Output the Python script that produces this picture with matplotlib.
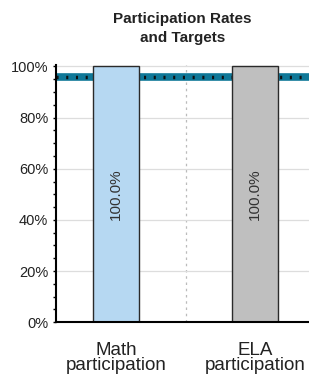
import matplotlib.pyplot as plt
import numpy as np
from matplotlib.ticker import MultipleLocator, FuncFormatter

plt.rcParams['font.family'] = ['Liberation Sans', 'DejaVu Sans']

# data
categories = ['Math\nparticipation', 'ELA\nparticipation']
rates = [100.0, 100.0]
target = 96
bar_colors = ['#b6d8f2', '#bfbfbf']

fig = plt.figure(figsize=(3.09, 3.79), dpi=100)
ax = fig.add_axes([0.181, 0.150, 0.819, 0.678])

x = np.arange(len(categories))

# target line (teal with black dashes)
ax.axhline(target, color='#107898', lw=5.5, zorder=1)
ax.axhline(target, color='#111111', lw=2.5, dashes=(0.6, 2.2), zorder=1.1)

bars = ax.bar(x, rates, width=0.335, color=bar_colors, edgecolor='#2a2a2a',
              linewidth=1.0, zorder=2)
for xi, r in zip(x, rates):
    ax.text(xi, 50, f'{r:.1f}%', rotation=90, ha='center', va='center',
            fontsize=11, color='#333333', zorder=3)

ax.axvline(0.5, color='#bbbbbb', lw=0.9, ls=(0, (2, 3)), zorder=0.5)

ax.set_xlim(-0.432, 1.388)
ax.set_ylim(0, 100.5)
ax.set_yticks(range(0, 101, 20))
ax.yaxis.set_minor_locator(MultipleLocator(5))
ax.yaxis.set_major_formatter(FuncFormatter(lambda v, p: f'{v:.0f}%'))
ax.grid(axis='y', color='#dddddd', lw=0.9, zorder=0)
ax.set_axisbelow(True)

ax.set_xticks(x)
ax.set_xticklabels(categories, fontsize=13.5, linespacing=0.9, color='#222222')
ax.tick_params(axis='x', length=0, pad=14)
ax.tick_params(axis='y', which='major', length=2.5, width=1, labelsize=10.5,
               pad=3, labelcolor='#222222')
ax.tick_params(axis='y', which='minor', length=2, width=1)

for s in ['top', 'right']:
    ax.spines[s].set_visible(False)
ax.spines['left'].set_linewidth(1.5)
ax.spines['bottom'].set_linewidth(1.5)

ax.set_title('Participation Rates\nand Targets', fontsize=11, fontweight='bold',
             pad=17, linespacing=1.4, color='#222222')

fig.savefig('out.png', dpi=100)
